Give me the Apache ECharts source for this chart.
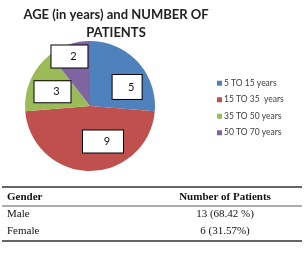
<!DOCTYPE html>
<html>
<head>
<meta charset="utf-8">
<script src="https://cdn.jsdelivr.net/npm/echarts@6/dist/echarts.min.js"></script>
<style>
  html, body { margin: 0; padding: 0; background: #fff; }
  #chart { width: 308px; height: 253px; }
</style>
</head>
<body>
<div id="chart"></div>
<script>
var ageGroups = ['5 TO 15 years', '15 TO 35  years', '35 TO 50 years', '50 TO 70 years'];
var patientCounts = [5, 9, 3, 2];
var tableHeader = ['Gender', 'Number of Patients'];
var genders = ['Male', 'Female'];
var genderCounts = ['13 (68.42 %)', '6 (31.57%)'];

var colors = ['#4f81bd', '#c0504d', '#9bbb59', '#8064a2'];
// label box look, per slice
var boxW = [29, 40, 36, 36];
var boxH = [24, 22, 21, 22];
var boxOffset = [[11, 5], [13, 0], [-5, 0], [-9, -16]];

var chart = echarts.init(document.getElementById('chart'));

var pieData = ageGroups.map(function (name, i) {
    return {
        name: name,
        value: patientCounts[i],
        label: {
            width: boxW[i] - 12,
            height: boxH[i],
            lineHeight: boxH[i],
            padding: [0, 2, 0, 10],
            offset: boxOffset[i]
        }
    };
});

var serif = "'Liberation Serif', serif";
var rowY = [197, 214, 231];
var tableRows = [tableHeader].concat(genders.map(function (g, i) { return [g, genderCounts[i]]; }));
var graphics = [];
tableRows.forEach(function (row, r) {
    var font = (r === 0 ? 'bold ' : '') + '11px ' + serif;
    graphics.push({
        type: 'text', x: 7, y: rowY[r],
        style: { text: row[0], font: font, fill: '#111', verticalAlign: 'middle' }
    });
    graphics.push({
        type: 'text', x: 225, y: rowY[r],
        style: { text: row[1], font: font, fill: '#111', align: 'center', verticalAlign: 'middle' }
    });
});
[[187, 1.5], [206, 0.8], [241, 1.5]].forEach(function (l) {
    graphics.push({
        type: 'line',
        shape: { x1: 2, y1: l[0], x2: 302, y2: l[0] },
        style: { stroke: '#333', lineWidth: l[1] }
    });
});

var option = {
    animation: false,
    color: colors,
    title: {
        text: 'AGE (in years) and NUMBER OF\nPATIENTS',
        left: 111,
        top: 1,
        textAlign: 'center',
        textStyle: {
            fontFamily: 'Lato',
            fontWeight: 'bold',
            fontSize: 13,
            lineHeight: 18,
            color: '#222'
        }
    },
    legend: {
        orient: 'vertical',
        left: 212,
        top: 73,
        icon: 'rect',
        itemWidth: 5,
        itemHeight: 5,
        itemGap: 6,
        data: ageGroups,
        textStyle: {
            fontFamily: 'Lato',
            fontSize: 8.5,
            lineHeight: 10.5,
            color: '#404040',
            padding: [0, 0, 0, -3]
        }
    },
    series: [{
        type: 'pie',
        center: [90, 106],
        radius: 65,
        startAngle: 90,
        clockwise: true,
        silent: true,
        label: {
            show: true,
            position: 'inside',
            formatter: '{c}',
            fontFamily: 'Lato',
            fontSize: 11,
            color: '#111',
            align: 'left',
            backgroundColor: '#fff',
            borderColor: '#000',
            borderWidth: 1
        },
        labelLine: { show: false },
        data: pieData
    }],
    graphic: graphics
};

chart.setOption(option);
</script>
</body>
</html>
